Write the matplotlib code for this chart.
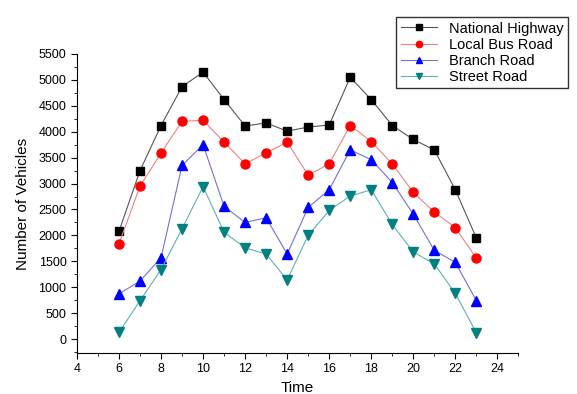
import matplotlib.pyplot as plt
from matplotlib.ticker import MultipleLocator

plt.rcParams['font.family'] = ['Liberation Sans', 'DejaVu Sans']

hours = [6, 7, 8, 9, 10, 11, 12, 13, 14, 15, 16, 17, 18, 19, 20, 21, 22, 23]
national = [2080, 3250, 4120, 4870, 5150, 4620, 4110, 4170, 4010, 4090, 4130, 5050, 4620, 4120, 3850, 3650, 2880, 1950]
local_bus = [1840, 2950, 3590, 4200, 4220, 3800, 3380, 3590, 3800, 3160, 3380, 4120, 3810, 3380, 2830, 2450, 2150, 1560]
branch = [870, 1120, 1570, 3350, 3750, 2560, 2250, 2340, 1640, 2540, 2880, 3650, 3460, 3020, 2410, 1710, 1480, 740]
street = [130, 740, 1340, 2130, 2940, 2060, 1760, 1640, 1140, 2000, 2480, 2760, 2880, 2210, 1680, 1450, 880, 120]

fig = plt.figure(figsize=(5.77, 3.94), dpi=100)
ax = fig.add_axes([0.1334, 0.104, 0.765, 0.759])

ax.plot(hours, national, color='#555555', lw=0.8, marker='s', ms=5.5, mfc='black', mec='black', label='National Highway')
ax.plot(hours, local_bus, color='#f08080', lw=0.8, marker='o', ms=6.5, mfc='red', mec='red', label='Local Bus Road')
ax.plot(hours, branch, color='#7070e0', lw=0.8, marker='^', ms=6.5, mfc='blue', mec='blue', label='Branch Road')
ax.plot(hours, street, color='#60b0b0', lw=0.8, marker='v', ms=6.5, mfc='#008080', mec='#008080', label='Street Road')

ax.set_xlim(4, 25)
ax.set_ylim(-270, 5500)
ax.set_xticks([4, 6, 8, 10, 12, 14, 16, 18, 20, 22, 24])
ax.set_yticks(range(0, 5501, 500))
ax.xaxis.set_minor_locator(MultipleLocator(1))
ax.yaxis.set_minor_locator(MultipleLocator(250))
ax.tick_params(which='both', direction='out', labelsize=9)
ax.tick_params(which='major', length=4)
ax.tick_params(which='minor', length=2)
ax.spines['top'].set_visible(False)
ax.spines['right'].set_visible(False)

ax.set_xlabel('Time', fontsize=11)
ax.set_ylabel('Number of Vehicles', fontsize=11, labelpad=6)

fig.legend(loc='upper right', bbox_to_anchor=(0.997, 0.975), fontsize=10.5, frameon=True,
           fancybox=False, edgecolor='black', handlelength=2.5, borderpad=0.3, labelspacing=0.15,
           markerscale=0.7)

fig.savefig('out.png', dpi=100)
